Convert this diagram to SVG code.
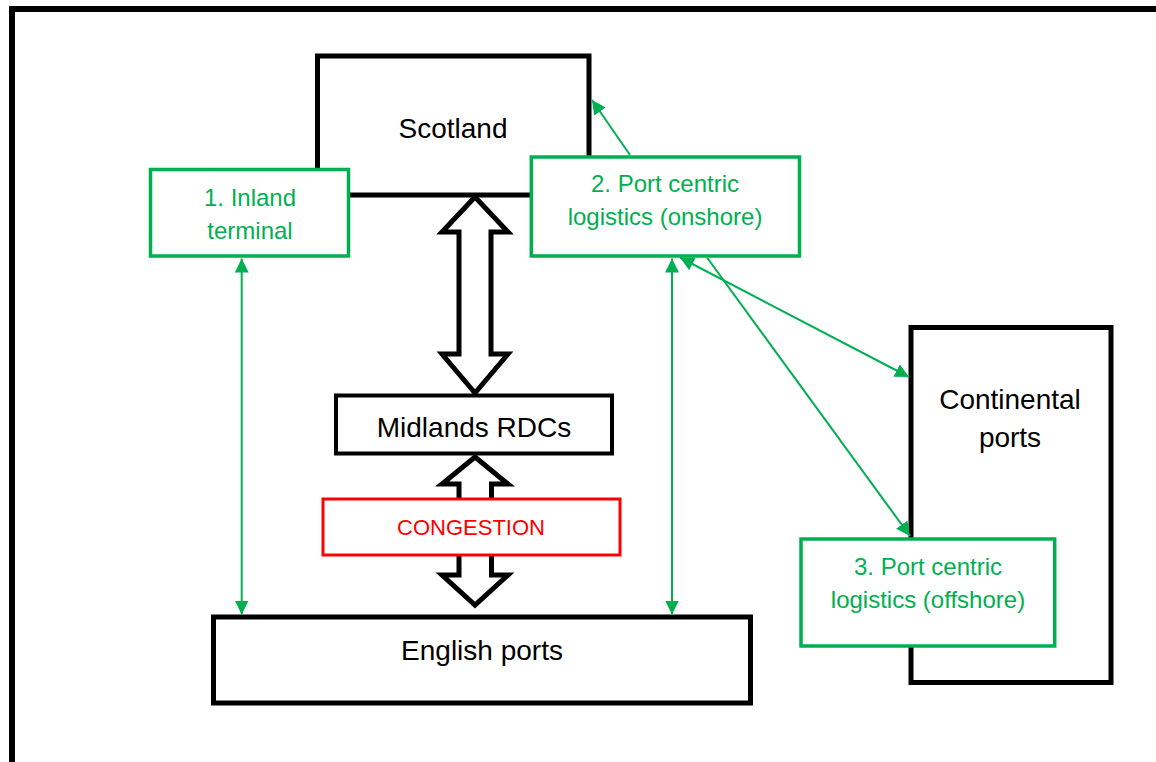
<svg xmlns="http://www.w3.org/2000/svg" width="1156" height="762" viewBox="0 0 1156 762">
<defs>
<style>
text{font-family:"Liberation Sans",Arial,sans-serif;text-anchor:middle}
.blk{fill:#fff;stroke:#000}
.grn{fill:#fff;stroke:#00b050;stroke-width:3.5}
.gt{fill:#00b050;font-size:24px}
.bt{fill:#000;font-size:28px}
.blockarrow{fill:#fff;stroke:#000;stroke-width:5;stroke-linejoin:miter}
.conn{stroke:#00b050;stroke-width:2;fill:none}
</style>
<marker id="ah" viewBox="0 0 14 14" refX="14" refY="7" markerWidth="14" markerHeight="14" markerUnits="userSpaceOnUse" orient="auto-start-reverse">
<path d="M0,0 L14,7 L0,14 z" fill="#00b050"/>
</marker>
</defs>
<rect x="0" y="0" width="1156" height="762" fill="#fff"/>
<rect id="frame" x="12" y="9" width="1200" height="800" fill="none" stroke="#000" stroke-width="6"/>

<g id="scotland">
<rect class="blk" x="317.5" y="56" width="271.5" height="139" stroke-width="5"/>
<text class="bt" x="453" y="138">Scotland</text>
</g>

<g id="block-arrows">
<path class="blockarrow" d="M475,197 L508,232 L491,232 L491,354 L508,354 L475,393 L442,354 L459,354 L459,232 L442,232 Z"/>
<path class="blockarrow" d="M475,457 L508,484 L491.5,484 L491.5,575 L508,575 L475,605 L442,575 L459,575 L459,484 L442,484 Z"/>
</g>

<g id="midlands">
<rect class="blk" x="336" y="395.5" width="276" height="58" stroke-width="4"/>
<text class="bt" x="474" y="437">Midlands RDCs</text>
</g>

<g id="congestion">
<rect x="323" y="499" width="297" height="56" fill="#fff" stroke="#ff0000" stroke-width="3"/>
<text x="471" y="535" fill="#ff0000" font-size="22">CONGESTION</text>
</g>

<g id="english-ports">
<rect class="blk" x="213.5" y="617" width="537" height="86" stroke-width="5"/>
<text class="bt" x="482" y="660">English ports</text>
</g>

<g id="continental-ports">
<rect class="blk" x="911" y="327.5" width="200" height="355" stroke-width="5"/>
<text class="bt" x="1010" y="409">Continental</text>
<text class="bt" x="1010" y="447">ports</text>
</g>

<g id="inland-terminal">
<rect class="grn" x="150.5" y="169.5" width="198" height="86.5"/>
<text class="gt" x="250" y="206">1. Inland</text>
<text class="gt" x="250" y="238.5">terminal</text>
</g>

<g id="onshore">
<rect class="grn" x="531.3" y="157" width="268.2" height="99"/>
<text class="gt" x="665" y="192">2. Port centric</text>
<text class="gt" x="665" y="224.5">logistics (onshore)</text>
</g>

<g id="offshore">
<rect class="grn" x="801" y="539" width="253.7" height="107"/>
<text class="gt" x="928" y="575">3. Port centric</text>
<text class="gt" x="928" y="607.5">logistics (offshore)</text>
</g>

<g id="connectors">
<line class="conn" x1="241.7" y1="258.5" x2="241.7" y2="614.5" marker-start="url(#ah)" marker-end="url(#ah)"/>
<line class="conn" x1="672" y1="258.5" x2="672" y2="614.5" marker-start="url(#ah)" marker-end="url(#ah)"/>
<line class="conn" x1="630" y1="155" x2="592" y2="100" marker-end="url(#ah)"/>
<line class="conn" x1="680" y1="257.5" x2="909" y2="377" marker-start="url(#ah)" marker-end="url(#ah)"/>
<line class="conn" x1="707" y1="257.5" x2="910" y2="536" marker-end="url(#ah)"/>
</g>
</svg>
